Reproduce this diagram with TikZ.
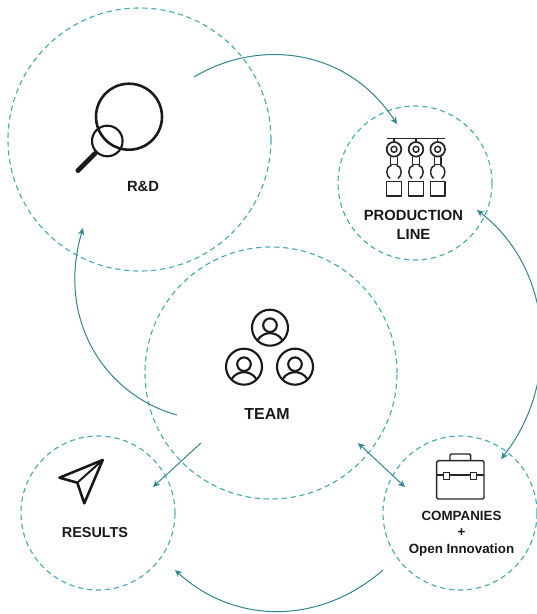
\documentclass[tikz,border=0pt]{standalone}
\usepackage{fontspec}
\setmainfont{Liberation Sans}
\usetikzlibrary{arrows.meta,positioning}
\definecolor{ringteal}{HTML}{45A9B4}
\definecolor{arrowteal}{HTML}{2F8490}
\tikzset{
  ring/.style={circle,draw=ringteal,line width=0.95pt,dash pattern=on 4.5pt off 3.2pt,inner sep=0pt},
  link/.style={draw=arrowteal,line width=0.85pt,-{Stealth[length=6pt,width=5.5pt]}},
  twoway/.style={link,{Stealth[length=6pt,width=5.5pt]}-{Stealth[length=6pt,width=5.5pt]}},
  biglabel/.style={font=\bfseries\fontsize{12.6}{15}\selectfont,align=center,text=black!90},
  smalllabel/.style={font=\bfseries\fontsize{11.4}{14.2}\selectfont,align=center,text=black!90},
  icon/.style={draw=black!90,line width=2.2pt,line cap=round,line join=round},
  thinicon/.style={draw=black!85,line width=1.25pt,line join=round}
}
\begin{document}
\begin{tikzpicture}[x=0.03cm,y=-0.03cm]
  \useasboundingbox (0,0) rectangle (537,614);

  % rings
  \node[ring,minimum size=7.89cm] (rd) at (139.5,139.5) {};
  \node[ring,minimum size=4.62cm] (prod) at (415,183) {};
  \node[ring,minimum size=7.56cm] (team) at (271,373) {};
  \node[ring,minimum size=4.62cm] (comp) at (460,513) {};
  \node[ring,minimum size=4.62cm] (res) at (98,513) {};

  % labels
  \node[biglabel] (rdlabel) at (143,186.5) {R\&D};
  \node[biglabel] (prodlabel) at (413.5,224.5) {PRODUCTION\\[1.2pt]LINE};
  \node[biglabel,font=\bfseries\fontsize{13.6}{15}\selectfont] (teamlabel) at (267,414.5) {TEAM};
  \node[smalllabel,font=\bfseries\fontsize{12.3}{14}\selectfont] (reslabel) at (95,532.5) {RESULTS};
  \node[smalllabel] (complabel) at (461.5,533.5) {COMPANIES\\+\\Open Innovation};

  % connector ends
  \coordinate (rdout) at (194,77);
  \coordinate (prodin) at (397,124);
  \coordinate (prodend) at (477,210);
  \coordinate (compend) at (501,459);
  \coordinate (compout) at (383,570);
  \coordinate (resin) at (175,570);
  \coordinate (teamout) at (177,415);
  \coordinate (rdin) at (83,228);
  \coordinate (teamres) at (201,443);
  \coordinate (resend) at (153,487);
  \coordinate (teamcomp) at (358,443);
  \coordinate (compin) at (405,487);

  % connectors
  \draw[link] (rdout) .. controls (255,40) and (345,45) .. (prodin);
  \draw[twoway] (prodend) .. controls (555,270) and (560,385) .. (compend);
  \draw[link] (compout) .. controls (320,625) and (235,625) .. (resin);
  \draw[link] (teamout) .. controls (105,395) and (56,320) .. (rdin);
  \draw[link] (teamres) -- (resend);
  \draw[twoway] (teamcomp) -- (compin);

  % magnifier
  \draw[icon] (129,116.7) circle (33);
  \draw[icon,line width=1.8pt] (107.3,141) circle (15.3);
  \draw[icon,line width=4.2pt] (95,153.5) -- (78,170.5);

  % production line
  \draw[thinicon] (386.7,138.3) -- (445.3,138.3);
  \foreach \armx in {394,416,437.7} {
    \begin{scope}[shift={(\armx,0)}]
      \draw[thinicon] (0,138.3) -- (0,141.5);
      \draw[thinicon,line width=1.5pt] (0,149.3) circle (7.3);
      \draw[thinicon] (0,149.3) circle (3);
      \draw[thinicon] (-3.3,156.6) -- (-3.3,164.5) -- (3.3,164.5) -- (3.3,156.6);
      \draw[thinicon] (-2.5,165.5) .. controls (-9,167) and (-8,176) .. (-4,178.5);
      \draw[thinicon] (2.5,165.5) .. controls (9,167) and (8,176) .. (4,178.5);
      \draw[thinicon] (-7.3,181.7) rectangle (7.3,196);
    \end{scope}
  }

  % persons
  \foreach \px/\py in {270/327.7,244/366.7,295/366.7} {
    \begin{scope}[shift={(\px,\py)}]
      \draw[icon,line width=1.8pt] (0,0) circle (18);
      \draw[icon,line width=1.8pt] (0,-2.5) circle (6.8);
      \draw[icon,line width=1.8pt] (-12.5,12.5) .. controls (-9,7) and (-4,5.5) .. (0,5.5) .. controls (4,5.5) and (9,7) .. (12.5,12.5);
    \end{scope}
  }

  % briefcase
  \draw[thinicon,rounded corners=1.2pt] (436.7,460.7) rectangle (484,499);
  \draw[thinicon,rounded corners=1pt] (450,460.7) -- (450,454) -- (470.7,454) -- (470.7,460.7);
  \draw[thinicon] (436.7,475) -- (443.5,475) (449.5,475) -- (470.7,475) (476.7,475) -- (484,475);
  \draw[thinicon] (443.5,472.3) rectangle (449.5,479.3);
  \draw[thinicon] (470.7,472.3) rectangle (476.7,479.3);

  % paper plane
  \draw[icon] (102.7,460) -- (59.5,477.7) -- (77.3,482.7) -- (84.3,503.3) -- cycle;
  \draw[icon,line width=1.7pt] (77.3,482.7) -- (102.7,460);
\end{tikzpicture}
\end{document}
